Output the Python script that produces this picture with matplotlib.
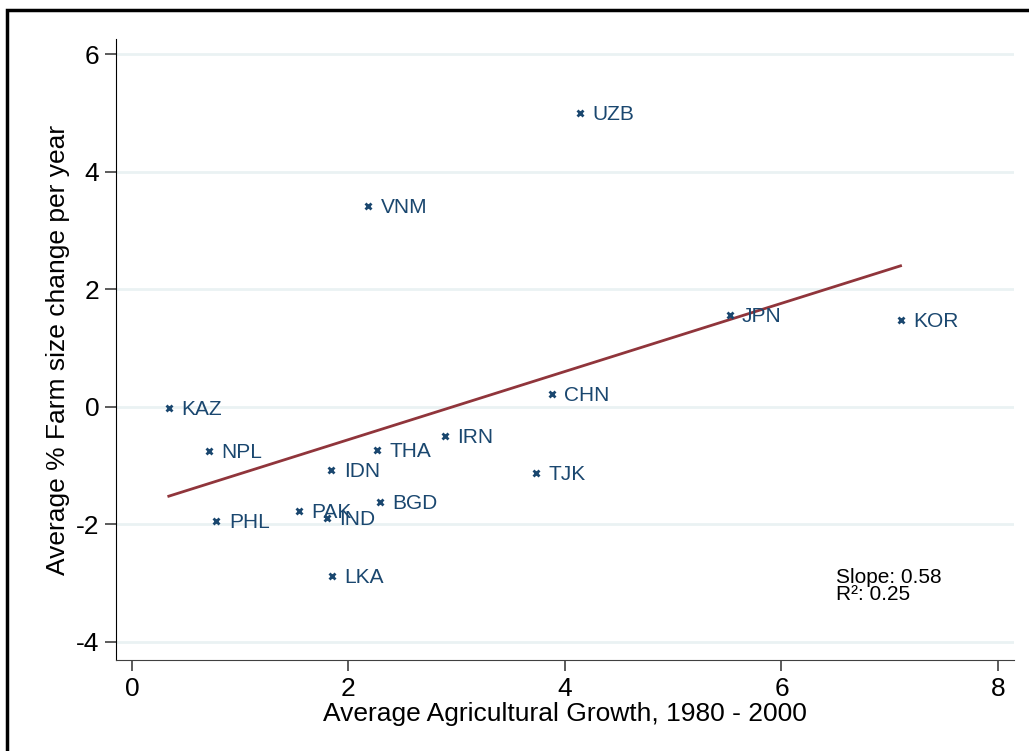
import numpy as np
import matplotlib
matplotlib.use("Agg")
import matplotlib.pyplot as plt
from matplotlib.patches import Rectangle

# data
countries = ["UZB", "VNM", "JPN", "KOR", "CHN", "KAZ", "NPL", "THA",
             "IRN", "TJK", "IDN", "BGD", "PAK", "IND", "PHL", "LKA"]
ag_growth = [4.14, 2.18, 5.52, 7.10, 3.88, 0.34, 0.71, 2.26,
             2.89, 3.73, 1.84, 2.29, 1.54, 1.80, 0.78, 1.85]
farm_change = [5.00, 3.42, 1.56, 1.47, 0.21, -0.02, -0.75, -0.73,
               -0.50, -1.13, -1.07, -1.62, -1.77, -1.89, -1.94, -2.88]

x = np.array(ag_growth)
y = np.array(farm_change)

plt.rcParams["font.family"] = ["Liberation Sans", "DejaVu Sans"]
plt.rcParams["axes.unicode_minus"] = False

navy = "#1a476f"
maroon = "#90353b"

fig = plt.figure(figsize=(10.29, 7.51), dpi=100)
ax = fig.add_axes([0.1127, 0.1212, 0.8727, 0.8268])

# grid
ax.set_yticks([-4, -2, 0, 2, 4, 6])
ax.set_xticks([0, 2, 4, 6, 8])
ax.grid(axis="y", color="#eaf2f3", linewidth=2)
ax.set_axisbelow(True)

# fit line
b, a = np.polyfit(x, y, 1)
xs = np.array([x.min(), x.max()])
ax.plot(xs, a + b * xs, color=maroon, linewidth=2)

# scatter with labels
ax.plot(x, y, linestyle="none", marker="x", markersize=5,
        markeredgewidth=2, color=navy)
for name, xi, yi in zip(countries, x, y):
    ax.annotate(name, (xi, yi), xytext=(9, -1), textcoords="offset points",
                va="center", ha="left", fontsize=15, color=navy)

ax.text(6.5, -3.05, "Slope: 0.58\nR\u00b2: 0.25", fontsize=15,
        color="black", va="center", ha="left", linespacing=0.9)

ax.set_xlim(-0.148, 8.148)
ax.set_ylim(-4.306, 6.255)

for s in ["top", "right"]:
    ax.spines[s].set_visible(False)
ax.spines["left"].set_color("black")
ax.spines["bottom"].set_color("#404040")
ax.tick_params(axis="both", direction="out", length=8, width=1.2,
               color="#404040", labelsize=19, pad=4)

ax.set_xlabel("Average Agricultural Growth, 1980 - 2000", fontsize=19,
              labelpad=1)
ax.set_ylabel("Average % Farm size change per year", fontsize=19,
              labelpad=4)

# outer border (cropped screenshot frame)
fig.patches.append(Rectangle((7 / 1029, -0.2), 1.5, 1.2 - 10 / 751,
                             transform=fig.transFigure, fill=False,
                             edgecolor="black", linewidth=2.5))

fig.savefig("out.png", dpi=100)
